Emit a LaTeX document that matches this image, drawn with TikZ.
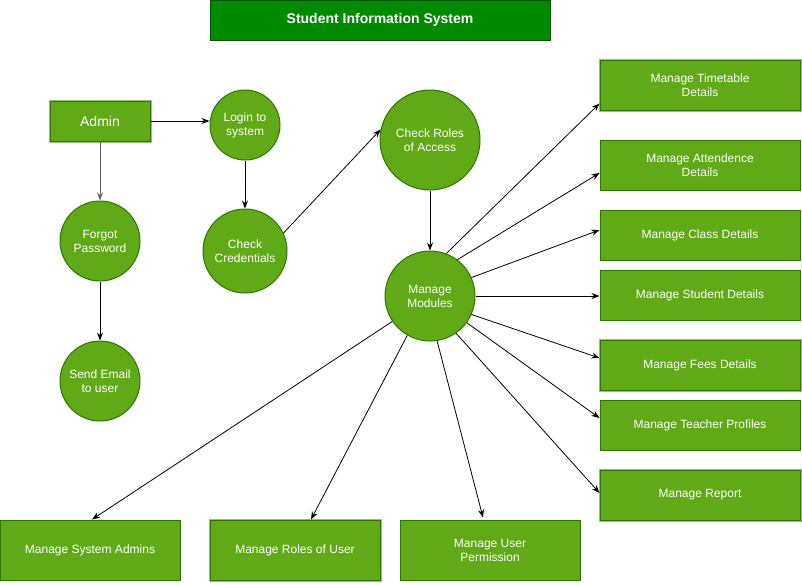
\documentclass[tikz,border=0pt]{standalone}
\usepackage{fontspec}
\setmainfont{Liberation Sans}
\usetikzlibrary{arrows.meta,calc}
\definecolor{leaf}{HTML}{60A917}
\definecolor{leafline}{HTML}{2D7600}
\definecolor{halo}{HTML}{93C47D}
\definecolor{titlefill}{HTML}{008A00}
\definecolor{titleline}{HTML}{005700}
\tikzset{
  base/.style={fill=leaf, draw=leafline, line width=1pt, text=white, align=center,
    font=\fontsize{12}{14}\selectfont, inner sep=0pt},
  boxnode/.style={base, rectangle, minimum width=#1, minimum height=50pt},
  boxnode/.default=200pt,
  halobox/.style={preaction={draw=halo, line width=3pt}},
  bubble/.style={base, circle, minimum size=#1},
  link/.style={draw=black, line width=0.8pt, -{Stealth[length=8pt,width=6pt]}},
}
\begin{document}
\begin{tikzpicture}[x=1pt,y=-1pt]
\useasboundingbox (0,0) rectangle (802,582);

% title banner
\node[base, fill=titlefill, draw=titleline, minimum width=340pt, minimum height=40pt,
  font=\fontsize{14}{16}\selectfont\bfseries] (title) at (380,20) {Student Information System};

% left column: login flow
\node[boxnode=100pt, minimum height=40pt, halobox, font=\fontsize{14}{16}\selectfont] (admin) at (100,121) {Admin};
\node[bubble=70pt] (login) at (245,125) {Login to\\system};
\node[bubble=80pt] (forgot) at (100,241) {Forgot\\Password};
\node[bubble=84pt] (cred) at (245,251) {Check\\Credentials};
\node[bubble=80pt] (email) at (100,381) {Send Email\\to user};
\node[bubble=100pt] (roles) at (430,140) {Check Roles\\of Access};
\node[bubble=90pt] (mods) at (430,296) {Manage\\Modules};

% right column of modules
\node[boxnode, halobox] (tt) at (700,85) {Manage Timetable\\Details};
\node[boxnode] (att) at (700,165) {Manage Attendence\\Details};
\node[boxnode] (cls) at (700,235) {Manage Class Details};
\node[boxnode] (stu) at (700,295) {Manage Student Details};
\node[boxnode, halobox] (fee) at (700,365) {Manage Fees Details};
\node[boxnode] (tch) at (700,425) {Manage Teacher Profiles};
\node[boxnode, halobox] (rep) at (700,495) {Manage Report};

% bottom row of modules
\node[boxnode=180pt, minimum height=60pt] (sys) at (90,550) {Manage System Admins};
\node[boxnode=170pt, minimum height=60pt, halobox] (rou) at (295,550) {Manage Roles of User};
\node[boxnode=180pt, minimum height=60pt] (perm) at (490,550) {Manage User\\Permission};

% connectors
\draw[link] (admin.east) -- (admin.east -| login.west);
\draw[link, draw=black!60] (admin) -- (forgot);
\draw[link] (login) -- (cred);
\draw[link] (forgot) -- (email);
\draw[link] (cred.25) -- (roles.168);
\draw[link] (roles) -- (mods);

\draw[link] (mods.69) -- ($(tt.south west)+(0,-7)$);
\draw[link] (mods.53) -- ($(att.west)+(0,8)$);
\draw[link] (mods.24) -- ($(cls.west)+(0,-5)$);
\draw[link] (mods.east) -- (mods.east -| stu.west);
\draw[link] (mods.-24) -- ($(fee.west)+(0,-7)$);
\draw[link] (mods.-36) -- ($(tch.west)+(0,-7)$);
\draw[link] (mods.-55) -- ($(rep.west)+(0,-2)$);
\draw[link] (mods.214) -- ($(sys.north)+(2,0)$);
\draw[link] (mods.240) -- ($(rou.north)+(16,0)$);
\draw[link] (mods.-81) -- ($(perm.north)+(-7,-2)$);
\end{tikzpicture}
\end{document}
